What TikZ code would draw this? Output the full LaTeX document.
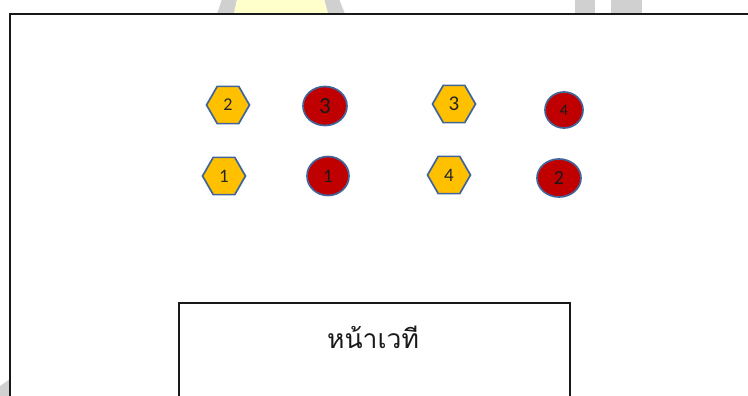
\documentclass[tikz,border=0pt]{standalone}
\usepackage{fontspec}
\setmainfont{Carlito}
\newfontfamily\thaifont[Script=Thai]{Loma}
\usetikzlibrary{shapes.geometric}
\definecolor{seatyellow}{HTML}{FFC000}
\definecolor{seatred}{HTML}{C00000}
\definecolor{rimblue}{HTML}{41649A}
\definecolor{markgray}{HTML}{D0D0D0}
\definecolor{markyellow}{HTML}{FFFFCC}
\tikzset{
  hexseat/.style={regular polygon,regular polygon sides=6,minimum size=43pt,inner sep=0pt,
    draw=rimblue,line width=1.7pt,fill=seatyellow,text=black!85},
  roundseat/.style={ellipse,minimum width=43pt,minimum height=38pt,inner sep=0pt,
    draw=rimblue,line width=1.7pt,fill=seatred,text=black!90},
  frame/.style={draw=black!90,line width=1.8pt}
}

\begin{document}
\begin{tikzpicture}[x=1pt,y=-1pt]
  \useasboundingbox (0,0) rectangle (748,396);
  \clip (0,0) rectangle (748,396);
  \fill[markgray] (222,-1) -- (339,-1) -- (345,14) -- (217,14) -- cycle;
  \fill[markyellow] (237,-1) -- (324,-1) -- (328,13) -- (234,13) -- cycle;
  \fill[markgray] (575,-1) rectangle (595,14);
  \fill[markgray] (611,-1) rectangle (642,14);
  \fill[markgray] (0,396) -- (0,386) -- (10,379) -- (10,396) -- cycle;
  \draw[frame] (10,400) |- (760,14);
  \foreach \name/\x/\y/\t/\s in {h2/228/105/2/18,h1/224/176/1/19,h3/454/104/3/21,h4/449/175/4/19}
    \node[hexseat,font=\fontsize{\s}{\s}\selectfont] (\name) at (\x,\y) {\t};
  \foreach \name/\x/\y/\t/\w/\h/\s in {c3/325/106/3/44/39/23,c1/328/176/1/42/39/19,c4/564/110/4/38/36/16,c2/559/178/2/44/38/20}
    \node[roundseat,minimum width=\w pt,minimum height=\h pt,font=\fontsize{\s}{\s}\selectfont] (\name) at (\x,\y) {\t};
  \draw[frame] (179,400) |- (570,303) -- (570,400);
  \node[font=\thaifont\fontsize{26.5}{26.5}\selectfont,text=black!90] (stagelabel) at (373,337) {หน้าเวที};
\end{tikzpicture}
\end{document}
